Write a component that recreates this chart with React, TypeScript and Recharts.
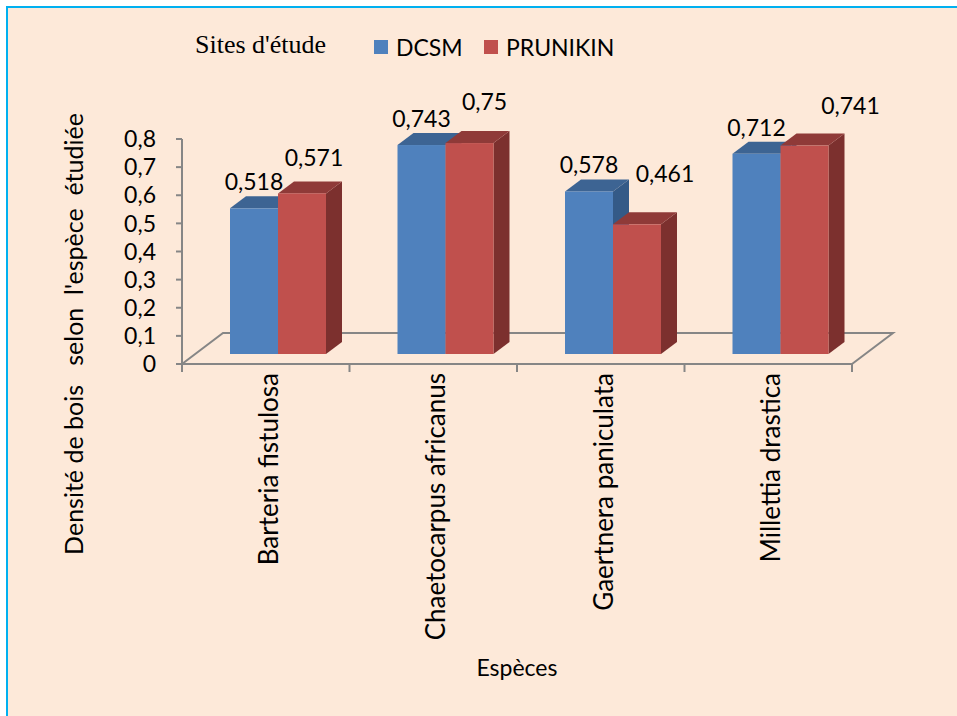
import React from "react";
import { BarChart, Bar, XAxis, YAxis, LabelList, Label } from "recharts";

// Wood density per species, measured at two study sites
const CATEGORIES = [
  "Barteria fistulosa",
  "Chaetocarpus africanus",
  "Gaertnera paniculata",
  "Millettia drastica",
];
const DCSM = [0.518, 0.743, 0.578, 0.712];
const PRUNIKIN = [0.571, 0.75, 0.461, 0.741];
const Y_TICKS = [0, 0.1, 0.2, 0.3, 0.4, 0.5, 0.6, 0.7, 0.8];

const WIDTH = 957;
const HEIGHT = 716;
const PLOT_LEFT = 182;
const PLOT_RIGHT = 852;
const PLOT_TOP = 139;
const BASE_Y = 364;

// floor depth and where the boxes sit inside it
const FLOOR_DX = 41;
const FLOOR_DY = -31;
const FRONT_DX = 12;
const FRONT_DY = -10;
const DEPTH_DX = 16;
const DEPTH_DY = -12;

const BG = "#FDE9D9";
const AXIS = "#868686";
const FONT = "Lato, 'Open Sans', sans-serif";

const TONES = {
  dcsm: { front: "#4F81BD", top: "#3D6493", side: "#345A87" },
  prunikin: { front: "#C0504D", top: "#8F3A38", side: "#7C302E" },
};

// label placement above each box (dx, rise)
const DCSM_LABEL_SHIFT = [0, 27];
const PRUNIKIN_LABEL_SHIFT = [
  [12, 36],
  [15, 42],
  [28, 51],
  [46, 41],
];

const data = CATEGORIES.map((name, i) => ({
  name,
  dcsm: DCSM[i],
  prunikin: PRUNIKIN[i],
}));

const fmt = (v: number) => String(v).replace(".", ",");

function Box3D(props: any) {
  const { x, y, width, height, tone } = props;
  if (height == null || width == null) return null;
  const fx = x + FRONT_DX;
  const fy = y + FRONT_DY;
  const top = [
    [fx, fy],
    [fx + DEPTH_DX, fy + DEPTH_DY],
    [fx + width + DEPTH_DX, fy + DEPTH_DY],
    [fx + width, fy],
  ];
  const side = [
    [fx + width, fy],
    [fx + width + DEPTH_DX, fy + DEPTH_DY],
    [fx + width + DEPTH_DX, fy + height + DEPTH_DY],
    [fx + width, fy + height],
  ];
  const pts = (p: number[][]) => p.map((q) => q.join(",")).join(" ");
  return (
    <g>
      <polygon points={pts(side)} fill={tone.side} />
      <polygon points={pts(top)} fill={tone.top} />
      <rect x={fx} y={fy} width={width} height={height} fill={tone.front} />
    </g>
  );
}

function valueLabel(shift: (i: number) => number[]) {
  return (props: any) => {
    const { x, y, width, value, index } = props;
    const [dx, rise] = shift(index);
    return (
      <text
        x={x + FRONT_DX + width / 2 + dx}
        y={y + FRONT_DY - rise}
        textAnchor="middle"
        dominantBaseline="central"
        fontSize={23}
        fontFamily={FONT}
        fill="#000"
      >
        {fmt(value)}
      </text>
    );
  };
}

function CategoryTick(props: any) {
  const { x, payload, index } = props;
  const half = payload && payload.offset ? payload.offset : (PLOT_RIGHT - PLOT_LEFT) / CATEGORIES.length / 2;
  const last = index === CATEGORIES.length - 1;
  return (
    <g>
      <line x1={x - half} y1={BASE_Y} x2={x - half} y2={BASE_Y + 8} stroke={AXIS} strokeWidth={2} />
      {last && (
        <line x1={x + half} y1={BASE_Y} x2={x + half} y2={BASE_Y + 8} stroke={AXIS} strokeWidth={2} />
      )}
      <text
        transform={`translate(${x + 2},${BASE_Y + 9}) rotate(-90)`}
        textAnchor="end"
        dominantBaseline="central"
        fontSize={26}
        fontFamily={FONT}
        fill="#000"
      >
        {payload.value}
      </text>
    </g>
  );
}

function Floor() {
  const bl = [PLOT_LEFT + FLOOR_DX, BASE_Y + FLOOR_DY];
  const br = [PLOT_RIGHT + FLOOR_DX, BASE_Y + FLOOR_DY];
  return (
    <svg width={WIDTH} height={HEIGHT} style={{ position: "absolute", left: 0, top: 0 }}>
      <polyline
        points={`${PLOT_LEFT},${BASE_Y} ${bl.join(",")} ${br.join(",")} ${PLOT_RIGHT},${BASE_Y}`}
        fill="none"
        stroke={AXIS}
        strokeWidth={2}
      />
    </svg>
  );
}

function LegendBox() {
  const items = [
    { name: "DCSM", color: TONES.dcsm.front, left: 374 },
    { name: "PRUNIKIN", color: TONES.prunikin.front, left: 484 },
  ];
  return (
    <div style={{ position: "absolute", left: 0, top: 0, width: WIDTH, height: 80 }}>
      <div
        style={{
          position: "absolute",
          left: 195,
          top: 28,
          fontFamily: "'Liberation Serif', 'Times New Roman', serif",
          fontSize: 26,
          lineHeight: "34px",
          whiteSpace: "nowrap",
        }}
      >
        Sites d'étude
      </div>
      {items.map((it) => (
        <div
          key={it.name}
          style={{
            position: "absolute",
            left: it.left,
            top: 30,
            display: "flex",
            alignItems: "center",
            fontFamily: FONT,
            fontSize: 23,
            lineHeight: "34px",
            whiteSpace: "nowrap",
          }}
        >
          <span style={{ width: 14, height: 14, background: it.color, marginRight: 8, display: "inline-block" }} />
          {it.name}
        </div>
      ))}
    </div>
  );
}

export default function App() {
  return (
    <div style={{ position: "absolute", left: 0, top: 0, width: WIDTH, height: HEIGHT, background: "#fff" }}>
      <div
        style={{
          position: "absolute",
          left: 6,
          top: 6,
          right: 0,
          bottom: 0,
          background: BG,
          borderTop: "2px solid #00B0F0",
          borderLeft: "2px solid #00B0F0",
        }}
      />
      <Floor />
      <div style={{ position: "absolute", left: 0, top: 0 }}>
        <BarChart
          width={WIDTH}
          height={HEIGHT}
          data={data}
          margin={{ top: PLOT_TOP, right: WIDTH - PLOT_RIGHT, bottom: 0, left: 0 }}
          barGap={0}
          barSize={48}
        >
          <XAxis
            dataKey="name"
            height={HEIGHT - BASE_Y}
            interval={0}
            axisLine={{ stroke: AXIS, strokeWidth: 2 }}
            tickLine={false}
            tick={<CategoryTick />}
          >
            <Label
              content={(p: any) => {
                const vb = p.viewBox || { x: PLOT_LEFT, y: BASE_Y, width: PLOT_RIGHT - PLOT_LEFT };
                return (
                  <text
                    x={vb.x + vb.width / 2}
                    y={vb.y + 303}
                    textAnchor="middle"
                    dominantBaseline="central"
                    fontSize={23}
                    fontFamily={FONT}
                    fill="#000"
                  >
                    Espèces
                  </text>
                );
              }}
            />
          </XAxis>
          <YAxis
            width={PLOT_LEFT}
            domain={[0, 0.8]}
            ticks={Y_TICKS}
            interval={0}
            tickFormatter={(v: number) => fmt(v)}
            axisLine={{ stroke: AXIS, strokeWidth: 2 }}
            tickLine={{ stroke: AXIS, strokeWidth: 2 }}
            tickSize={6}
            tickMargin={20}
            tick={{ fill: "#000", fontSize: 23, fontFamily: FONT }}
          >
            <Label
              content={() => (
                <text
                  transform="translate(73,334) rotate(-90)"
                  textAnchor="middle"
                  dominantBaseline="central"
                  fontSize={25}
                  fontFamily={FONT}
                  fill="#000"
                  style={{ whiteSpace: "pre" }}
                >
                  {"Densité de bois   selon  l'espèce  étudiée"}
                </text>
              )}
            />
          </YAxis>
          <Bar
            dataKey="dcsm"
            name="DCSM"
            fill={TONES.dcsm.front}
            isAnimationActive={false}
            shape={(p: any) => <Box3D {...p} tone={TONES.dcsm} />}
          >
            <LabelList dataKey="dcsm" content={valueLabel(() => DCSM_LABEL_SHIFT)} />
          </Bar>
          <Bar
            dataKey="prunikin"
            name="PRUNIKIN"
            fill={TONES.prunikin.front}
            isAnimationActive={false}
            shape={(p: any) => <Box3D {...p} tone={TONES.prunikin} />}
          >
            <LabelList dataKey="prunikin" content={valueLabel((i) => PRUNIKIN_LABEL_SHIFT[i])} />
          </Bar>
        </BarChart>
      </div>
      <LegendBox />
    </div>
  );
}
